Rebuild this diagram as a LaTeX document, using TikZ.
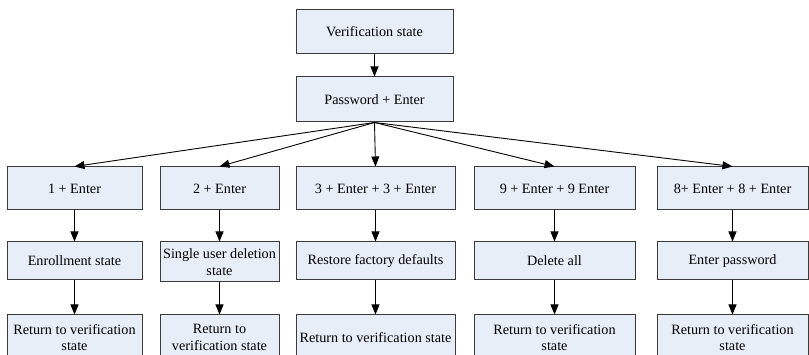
\documentclass[tikz,border=0pt]{standalone}
\usepackage{fontspec}
\setmainfont{Liberation Serif}
\usepackage{xcolor}
\usetikzlibrary{arrows.meta}
\definecolor{boxfill}{HTML}{E8EEF8}
\definecolor{boxline}{HTML}{3A3A3A}
\tikzset{
  box/.style={draw=boxline, fill=boxfill, line width=1pt, inner sep=0pt,
    align=center, font=\fontsize{14.2}{16.5}\selectfont},
  arr/.style={draw=black, line width=0.9pt, -{Triangle[length=10pt,width=8pt]}},
}

\begin{document}
\begin{tikzpicture}[x=1pt,y=-1pt]
  \useasboundingbox (0,0) rectangle (809,355);

  \node[box,minimum width=157,minimum height=44] (ver) at (374.5,32) {Verification state};
  \node[box,minimum width=157,minimum height=45] (pwd) at (374.5,99.5) {Password + Enter};

  % key sequences
  \node[box,minimum width=135,minimum height=43] (k1) at (74.5,188.5) {1 + Enter};
  \node[box,minimum width=119,minimum height=43] (k2) at (219.5,188.5) {2 + Enter};
  \node[box,minimum width=159,minimum height=43] (k3) at (375.5,188.5) {3 + Enter + 3 + Enter};
  \node[box,minimum width=161,minimum height=43] (k4) at (554.5,188.5) {9 + Enter + 9 Enter};
  \node[box,minimum width=151,minimum height=43] (k5) at (732.5,188.5) {8+ Enter + 8 + Enter};

  % resulting states
  \node[box,minimum width=135,minimum height=38] (s1) at (74.5,261) {Enrollment state};
  \node[box,minimum width=119,minimum height=40] (s2) at (219.5,262) {Single user deletion\\state};
  \node[box,minimum width=159,minimum height=38] (s3) at (375.5,261) {Restore factory defaults};
  \node[box,minimum width=161,minimum height=38] (s4) at (554.5,261) {Delete all};
  \node[box,minimum width=151,minimum height=38] (s5) at (732.5,261) {Enter password};

  % back to start
  \node[box,minimum width=135,minimum height=45] (r1) at (74.5,337.5) {Return to verification\\state};
  \node[box,minimum width=119,minimum height=45] (r2) at (219.5,337.5) {Return to\\verification state};
  \node[box,minimum width=159,minimum height=45] (r3) at (375.5,337.5) {Return to verification state};
  \node[box,minimum width=161,minimum height=45] (r4) at (554.5,337.5) {Return to verification\\state};
  \node[box,minimum width=151,minimum height=45] (r5) at (732.5,337.5) {Return to verification\\state};

  \draw[arr] (ver) -- (pwd);
  \foreach \i in {1,...,5} {
    \draw[arr] (pwd.south) -- (k\i.north);
    \draw[arr] (k\i) -- (s\i);
    \draw[arr] (s\i) -- (r\i);
  }
\end{tikzpicture}
\end{document}
